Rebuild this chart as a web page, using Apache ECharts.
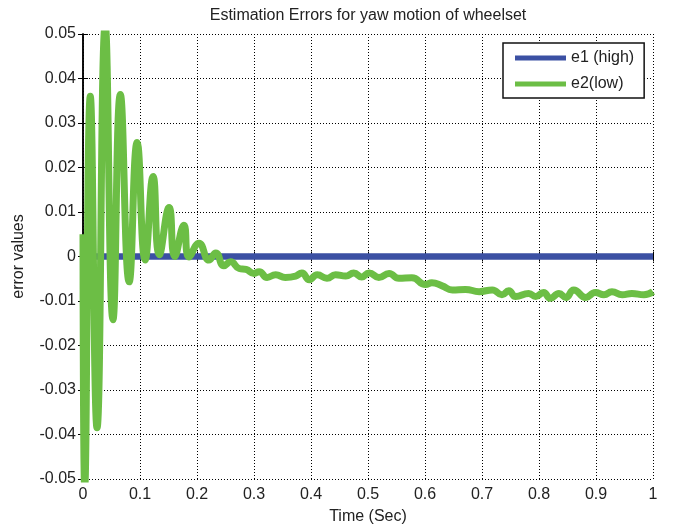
<html>
<head>
<meta charset="utf-8">
<title>Estimation Errors for yaw motion of wheelset</title>
<script src="https://cdn.jsdelivr.net/npm/echarts@6/dist/echarts.min.js"></script>
<style>
html, body { margin: 0; padding: 0; background: #fff; }
#main { width: 676px; height: 530px; }
</style>
</head>
<body>
<div id="main"></div>
<script type="text/javascript">
// data
var xTicks = [0, 0.1, 0.2, 0.3, 0.4, 0.5, 0.6, 0.7, 0.8, 0.9, 1];
var yTicks = [-0.05, -0.04, -0.03, -0.02, -0.01, 0, 0.01, 0.02, 0.03, 0.04, 0.05];

var timeE1 = [0, 0.1, 0.2, 0.3, 0.4, 0.5, 0.6, 0.7, 0.8, 0.9, 1];
var e1High = [0, 0, 0, 0, 0, 0, 0, 0, 0, 0, 0];

var timeE2 = [0, 0.003, 0.0128, 0.0246, 0.039, 0.0526, 0.0655, 0.081, 0.095, 0.109,
    0.123, 0.134, 0.151, 0.161, 0.177, 0.186, 0.2035, 0.221, 0.233, 0.247,
    0.259, 0.274, 0.286, 0.300, 0.309, 0.323, 0.338, 0.355, 0.373, 0.384,
    0.397, 0.411, 0.428, 0.443, 0.461, 0.475, 0.489, 0.502, 0.519, 0.537,
    0.554, 0.577, 0.601, 0.612, 0.630, 0.648, 0.671, 0.695, 0.718, 0.735,
    0.747, 0.759, 0.782, 0.794, 0.808, 0.820, 0.835, 0.847, 0.861, 0.882,
    0.899, 0.914, 0.928, 0.946, 0.963, 0.984, 1.0];
var e2Low = [0.005, -0.052, 0.036, -0.0385, 0.052, -0.0142, 0.0364, -0.0057, 0.0256, -0.0008,
    0.018, 0.0004, 0.011, 0.0, 0.007, -0.0001, 0.003, -0.0008, 0.0008, -0.0021,
    -0.0012, -0.0027, -0.0029, -0.0038, -0.0034, -0.0047, -0.0041, -0.0047, -0.0044, -0.0037,
    -0.0052, -0.0041, -0.0049, -0.0041, -0.0044, -0.0037, -0.0046, -0.0037, -0.0047, -0.0038,
    -0.0049, -0.0048, -0.0063, -0.0059, -0.0066, -0.0075, -0.0074, -0.0079, -0.0075, -0.0086,
    -0.0077, -0.009, -0.0083, -0.009, -0.0081, -0.0094, -0.0083, -0.0092, -0.0075, -0.0092,
    -0.0081, -0.0086, -0.0079, -0.0086, -0.0083, -0.0086, -0.0079];

function pairs(xs, ys) {
    var out = [];
    for (var i = 0; i < xs.length; i++) {
        out.push([xs[i], ys[i]]);
    }
    return out;
}

var font = 'Liberation Sans, Arial, sans-serif';
var gridLine = { show: true, lineStyle: { color: '#000', type: [1, 2], width: 1 } };
var boxLine = { show: true, lineStyle: { color: '#000', width: 1.5 } };
var tickIn = { show: true, inside: true, length: 5, lineStyle: { color: '#000', width: 1 } };

var myChart = echarts.init(document.getElementById('main'));

var option = {
    backgroundColor: '#fff',
    animation: false,
    title: {
        text: 'Estimation Errors for yaw motion of wheelset',
        left: 368,
        top: 8,
        padding: 0,
        textAlign: 'center',
        textStyle: { fontFamily: font, fontSize: 16, fontWeight: 'normal', color: '#222' }
    },
    grid: { left: 83, right: 23, top: 34, bottom: 46 },
    legend: {
        left: 503,
        top: 43,
        orient: 'vertical',
        backgroundColor: '#fff',
        borderColor: '#111',
        borderWidth: 1.5,
        borderRadius: 0,
        padding: [7, 10, 6, 12],
        itemGap: 10,
        itemWidth: 51,
        itemHeight: 5,
        icon: 'rect',
        textStyle: { fontFamily: font, fontSize: 16, color: '#222' },
        data: ['e1 (high)', 'e2(low)']
    },
    xAxis: [{
        type: 'value',
        min: 0, max: 1, interval: 0.1,
        name: 'Time (Sec)',
        nameLocation: 'middle',
        nameGap: 30,
        nameTextStyle: { fontFamily: font, fontSize: 16, color: '#222' },
        axisLine: boxLine,
        axisTick: tickIn,
        splitLine: gridLine,
        axisLabel: {
            fontFamily: font, fontSize: 16, color: '#222', margin: 8,
            formatter: function (v) { return String(+v.toFixed(1)); }
        }
    }, {
        type: 'value',
        position: 'top',
        min: 0, max: 1, interval: 0.1,
        axisLine: boxLine,
        axisTick: tickIn,
        splitLine: { show: false },
        axisLabel: { show: false }
    }],
    yAxis: [{
        type: 'value',
        min: -0.05, max: 0.05, interval: 0.01,
        name: 'error values',
        nameLocation: 'middle',
        nameGap: 56,
        nameTextStyle: { fontFamily: font, fontSize: 16, color: '#222' },
        axisLine: boxLine,
        axisTick: tickIn,
        splitLine: gridLine,
        axisLabel: {
            fontFamily: font, fontSize: 16, color: '#222', margin: 7,
            formatter: function (v) { return Math.abs(v) < 1e-9 ? '0' : v.toFixed(2); }
        }
    }, {
        type: 'value',
        position: 'right',
        min: -0.05, max: 0.05, interval: 0.01,
        axisLine: boxLine,
        axisTick: tickIn,
        splitLine: { show: false },
        axisLabel: { show: false }
    }],
    series: [{
        name: 'e1 (high)',
        type: 'line',
        showSymbol: false,
        color: '#3B50A3',
        lineStyle: { width: 6.5, color: '#3B50A3' },
        data: pairs(timeE1, e1High)
    }, {
        name: 'e2(low)',
        type: 'line',
        showSymbol: false,
        smooth: 0.5,
        color: '#6CBE45',
        lineStyle: { width: 7, color: '#6CBE45' },
        data: pairs(timeE2, e2Low)
    }]
};

myChart.setOption(option);
</script>
</body>
</html>
